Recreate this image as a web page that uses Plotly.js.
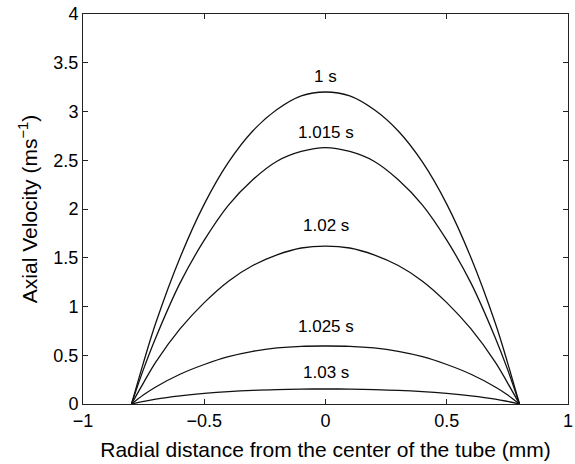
<!DOCTYPE html>
<html>
<head>
<meta charset="utf-8">
<script src="https://cdn.plot.ly/plotly-3.0.1.min.js"></script>
<style>html,body{margin:0;padding:0;background:#fff;}#plot{width:575px;height:464px;}</style>
</head>
<body>
<div id="plot"></div>
<script>
// Radial positions (mm)
const radius = [-0.8, -0.75, -0.7, -0.6, -0.5, -0.4, -0.3, -0.2, -0.1, 0, 0.1, 0.2, 0.3, 0.4, 0.5, 0.6, 0.7, 0.75, 0.8];
// Axial velocity profiles (m/s)
const v_1_000 = [0, 0.43, 0.83, 1.50, 2.05, 2.48, 2.80, 3.02, 3.16, 3.20, 3.16, 3.02, 2.80, 2.48, 2.05, 1.50, 0.83, 0.43, 0];
const v_1_015 = [0, 0.36, 0.68, 1.24, 1.68, 2.04, 2.30, 2.49, 2.59, 2.63, 2.59, 2.49, 2.30, 2.04, 1.68, 1.24, 0.68, 0.36, 0];
const v_1_020 = [0, 0.22, 0.43, 0.77, 1.04, 1.26, 1.42, 1.53, 1.60, 1.62, 1.60, 1.53, 1.42, 1.26, 1.04, 0.77, 0.43, 0.22, 0];
const v_1_025 = [0, 0.095, 0.175, 0.305, 0.405, 0.485, 0.54, 0.575, 0.592, 0.595, 0.592, 0.575, 0.54, 0.485, 0.405, 0.305, 0.175, 0.095, 0];
const v_1_030 = [0, 0.027, 0.05, 0.083, 0.108, 0.127, 0.140, 0.148, 0.153, 0.154, 0.153, 0.148, 0.140, 0.127, 0.108, 0.083, 0.05, 0.027, 0];
const timeLabels = ["1 s", "1.015 s", "1.02 s", "1.025 s", "1.03 s"];
const series = [v_1_000, v_1_015, v_1_020, v_1_025, v_1_030];
const xTicks = [-1, -0.5, 0, 0.5, 1];
const yTicks = [0, 0.5, 1, 1.5, 2, 2.5, 3, 3.5, 4];

const FONT = 'Liberation Sans, Arial, Helvetica, sans-serif';
const labelShift = [16, 15, 21, 19, 16];
const traces = series.map((v, i) => ({
  x: radius, y: v, type: 'scatter', mode: 'lines',
  line: {color: '#111', width: 1.3, shape: 'spline', smoothing: 1},
  name: timeLabels[i], showlegend: false, hoverinfo: 'skip'
}));
const annotations = series.map((v, i) => ({
  x: 0, y: Math.max(...v), xref: 'x', yref: 'y', text: timeLabels[i],
  showarrow: false, yshift: labelShift[i], yanchor: 'middle',
  font: {family: FONT, size: 17, color: '#000'}
}));

const axisCommon = {
  showgrid: false, zeroline: false, showline: true, mirror: 'ticks',
  linecolor: '#222', linewidth: 1, ticks: 'inside', ticklen: 5, tickcolor: '#222',
  tickfont: {family: FONT, size: 18, color: '#000'}
};
const layout = {
  width: 575, height: 464,
  margin: {l: 83, r: 7, t: 14, b: 60},
  paper_bgcolor: '#fff', plot_bgcolor: '#fff',
  xaxis: Object.assign({}, axisCommon, {
    range: [-1, 1], tickvals: xTicks, ticktext: xTicks.map(t => String(t).replace('-', '\u2212')),
    title: {text: 'Radial distance from the center of the tube (mm)', standoff: 12,
      font: {family: FONT, size: 21, color: '#000'}}
  }),
  yaxis: Object.assign({}, axisCommon, {
    range: [0, 4], tickvals: yTicks,
    title: {text: 'Axial Velocity (ms<sup>\u22121</sup>)', standoff: 10,
      font: {family: FONT, size: 21, color: '#000'}}
  }),
  annotations: annotations
};
Plotly.newPlot('plot', traces, layout, {displayModeBar: false, staticPlot: true});
</script>
</body>
</html>
